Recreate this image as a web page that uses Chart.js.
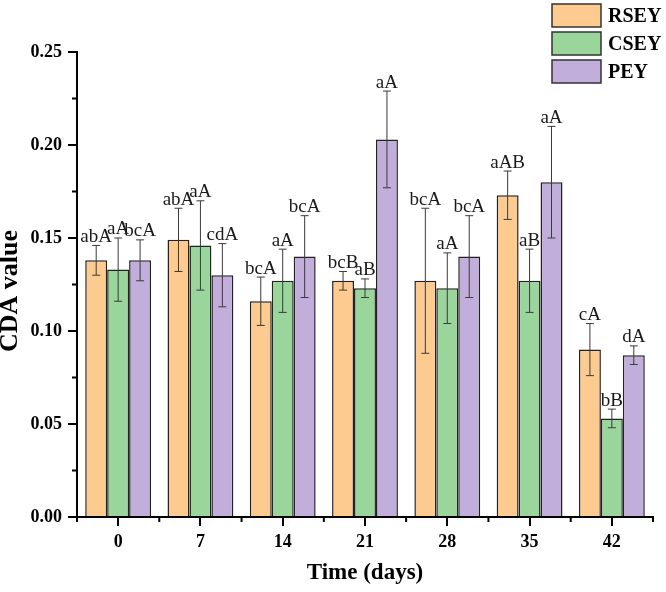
<!DOCTYPE html>
<html>
<head>
<meta charset="utf-8">
<script src="https://cdn.jsdelivr.net/npm/chart.js@4"></script>
<style>
  html, body { margin: 0; padding: 0; background: #fff; }
  #wrap { width: 666px; height: 592px; position: relative; }
</style>
</head>
<body>
<div id="wrap"><canvas id="cdaChart"></canvas></div>
<script>
const days = ['0', '7', '14', '21', '28', '35', '42'];
const seriesNames = ['RSEY', 'CSEY', 'PEY'];

const rseyValues = [0.138, 0.149, 0.116, 0.127, 0.127, 0.173, 0.090];
const cseyValues = [0.133, 0.146, 0.127, 0.123, 0.123, 0.127, 0.053];
const peyValues  = [0.138, 0.130, 0.140, 0.203, 0.140, 0.180, 0.087];

const rseyErrors = [0.008, 0.017, 0.013, 0.005, 0.039, 0.013, 0.014];
const cseyErrors = [0.017, 0.024, 0.017, 0.005, 0.019, 0.017, 0.005];
const peyErrors  = [0.011, 0.017, 0.022, 0.026, 0.022, 0.030, 0.005];

const rseyLetters = ['abA', 'abA', 'bcA', 'bcB', 'bcA', 'aAB', 'cA'];
const cseyLetters = ['aA', 'aA', 'aA', 'aB', 'aA', 'aB', 'bB'];
const peyLetters  = ['bcA', 'cdA', 'bcA', 'aA', 'bcA', 'aA', 'dA'];

const yTicks = [0, 0.05, 0.10, 0.15, 0.20, 0.25];

const fillColors = ['#FDCA8F', '#9AD59C', '#C2AEDA'];
const serif = '"Liberation Serif", "Times New Roman", serif';

const errorsBySeries = [rseyErrors, cseyErrors, peyErrors];
const lettersBySeries = [rseyLetters, cseyLetters, peyLetters];

// error bars + significance letters on top of the bars
const errorBarPlugin = {
    id: 'errorBars',
    afterDatasetsDraw(chart) {
        const ctx = chart.ctx;
        const yScale = chart.scales.y;
        ctx.save();
        chart.data.datasets.forEach((ds, di) => {
            const meta = chart.getDatasetMeta(di);
            meta.data.forEach((bar, i) => {
                const v = ds.data[i];
                const e = errorsBySeries[di][i];
                const yTop = yScale.getPixelForValue(v + e);
                const yBot = yScale.getPixelForValue(v - e);
                ctx.strokeStyle = '#3a3a3a';
                ctx.lineWidth = 1;
                ctx.beginPath();
                ctx.moveTo(bar.x, yTop);
                ctx.lineTo(bar.x, yBot);
                ctx.moveTo(bar.x - 4, yTop);
                ctx.lineTo(bar.x + 4, yTop);
                ctx.moveTo(bar.x - 4, yBot);
                ctx.lineTo(bar.x + 4, yBot);
                ctx.stroke();

                ctx.fillStyle = '#1a1a1a';
                ctx.font = '19px ' + serif;
                ctx.textAlign = 'center';
                ctx.textBaseline = 'bottom';
                ctx.fillText(lettersBySeries[di][i], bar.x, yTop + 1);
            });
        });
        ctx.restore();
    }
};

// minor ticks, y title and the legend box in the corner
const extrasPlugin = {
    id: 'extras',
    afterDraw(chart) {
        const ctx = chart.ctx;
        const area = chart.chartArea;
        const yScale = chart.scales.y;
        ctx.save();
        ctx.strokeStyle = '#000';
        ctx.lineWidth = 2;
        ctx.beginPath();
        for (let k = 0; k < yTicks.length - 1; k++) {
            const y = yScale.getPixelForValue((yTicks[k] + yTicks[k + 1]) / 2);
            ctx.moveTo(area.left, y);
            ctx.lineTo(area.left - 5, y);
        }
        for (let i = 0; i <= days.length; i++) {
            const x = area.left + i * (area.right - area.left) / days.length;
            ctx.moveTo(x, area.bottom);
            ctx.lineTo(x, area.bottom + 5);
        }
        ctx.stroke();

        // y axis title
        ctx.save();
        ctx.translate(10, 291);
        ctx.rotate(-Math.PI / 2);
        ctx.fillStyle = '#000';
        ctx.font = 'bold 26px ' + serif;
        ctx.textAlign = 'center';
        ctx.textBaseline = 'middle';
        ctx.fillText('CDA value', 0, 0);
        ctx.restore();

        // legend
        const boxX = 552, boxW = 49, boxH = 23, startY = 4, gap = 5;
        seriesNames.forEach((name, i) => {
            const y = startY + i * (boxH + gap);
            ctx.fillStyle = fillColors[i];
            ctx.fillRect(boxX, y, boxW, boxH);
            ctx.strokeStyle = '#333';
            ctx.lineWidth = 1.5;
            ctx.strokeRect(boxX, y, boxW, boxH);
            ctx.fillStyle = '#000';
            ctx.font = 'bold 20px ' + serif;
            ctx.textAlign = 'left';
            ctx.textBaseline = 'middle';
            ctx.fillText(name, boxX + 56, y + boxH / 2 + 1);
        });
        ctx.restore();
    }
};

const ctx = document.getElementById('cdaChart').getContext('2d');

new Chart(ctx, {
    type: 'bar',
    data: {
        labels: days,
        datasets: [
            { label: 'RSEY', data: rseyValues, backgroundColor: fillColors[0], borderColor: '#222', borderWidth: 1.5 },
            { label: 'CSEY', data: cseyValues, backgroundColor: fillColors[1], borderColor: '#222', borderWidth: 1.5 },
            { label: 'PEY', data: peyValues, backgroundColor: fillColors[2], borderColor: '#222', borderWidth: 1.5 }
        ]
    },
    options: {
        responsive: true,
        maintainAspectRatio: false,
        animation: false,
        categoryPercentage: 0.8,
        barPercentage: 1.0,
        layout: { padding: { top: 52, right: 13, left: 0, bottom: 0 } },
        plugins: {
            legend: { display: false },
            tooltip: { enabled: false }
        },
        scales: {
            x: {
                offset: true,
                grid: { offset: false, drawOnChartArea: false, tickLength: 9, color: '#000', lineWidth: 2 },
                border: { color: '#000', width: 2 },
                ticks: { color: '#000', padding: 6, font: { family: serif, size: 18, weight: 'bold' } },
                title: {
                    display: true,
                    text: 'Time (days)',
                    color: '#000',
                    font: { family: serif, size: 23, weight: 'bold', lineHeight: 1.2 },
                    padding: { top: 0, bottom: 5 }
                },
                afterFit(scale) { scale.height = 75; }
            },
            y: {
                min: 0,
                max: 0.25,
                afterBuildTicks(scale) { scale.ticks = yTicks.map(v => ({ value: v })); },
                grid: { drawOnChartArea: false, tickLength: 9, color: '#000', lineWidth: 2 },
                border: { color: '#000', width: 2 },
                ticks: {
                    color: '#000',
                    padding: 6,
                    font: { family: serif, size: 18, weight: 'bold' },
                    callback: v => v.toFixed(2)
                },
                title: { display: false },
                afterFit(scale) { scale.width = 77; }
            }
        }
    },
    plugins: [errorBarPlugin, extrasPlugin]
});
</script>
</body>
</html>
